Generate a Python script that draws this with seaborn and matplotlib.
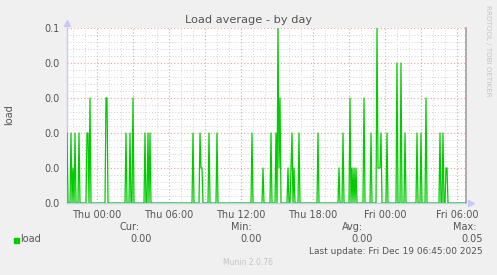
import matplotlib
matplotlib.use("Agg")
import matplotlib.pyplot as plt
import matplotlib.dates as mdates
import numpy as np
import pandas as pd
import seaborn as sns

# ---------------- data ----------------
series_start = "2025-12-17 21:30"
series_end = "2025-12-19 06:45"
sample_step = "5min"

spike_times = [
    "2025-12-17 21:30", "2025-12-17 21:50", "2025-12-17 22:00", "2025-12-17 22:10",
    "2025-12-17 22:30", "2025-12-17 23:10", "2025-12-17 23:15", "2025-12-17 23:25",
    "2025-12-18 00:45", "2025-12-18 00:50", "2025-12-18 02:25", "2025-12-18 02:45",
    "2025-12-18 03:00", "2025-12-18 04:00", "2025-12-18 04:15", "2025-12-18 04:25",
    "2025-12-18 08:00", "2025-12-18 08:35", "2025-12-18 08:40", "2025-12-18 08:45",
    "2025-12-18 09:20", "2025-12-18 10:00", "2025-12-18 12:55", "2025-12-18 13:50",
    "2025-12-18 14:30", "2025-12-18 14:55", "2025-12-18 15:05", "2025-12-18 15:10",
    "2025-12-18 15:15", "2025-12-18 15:55", "2025-12-18 16:10", "2025-12-18 16:15",
    "2025-12-18 16:25", "2025-12-18 16:50", "2025-12-18 18:25", "2025-12-18 20:10",
    "2025-12-18 20:30", "2025-12-18 21:05", "2025-12-18 21:15", "2025-12-18 21:25",
    "2025-12-18 21:35", "2025-12-18 22:15", "2025-12-18 22:50", "2025-12-18 23:20",
    "2025-12-18 23:25", "2025-12-18 23:30", "2025-12-18 23:35", "2025-12-18 23:40",
    "2025-12-19 00:10", "2025-12-19 01:00", "2025-12-19 01:20", "2025-12-19 01:40",
    "2025-12-19 02:40", "2025-12-19 03:00", "2025-12-19 03:25", "2025-12-19 04:35",
    "2025-12-19 04:50", "2025-12-19 05:05", "2025-12-19 05:10",
]
spike_loads = [
    0.02, 0.02, 0.01, 0.02,
    0.02, 0.02, 0.02, 0.03,
    0.03, 0.03, 0.02, 0.02,
    0.03, 0.02, 0.02, 0.02,
    0.02, 0.02, 0.01, 0.01,
    0.02, 0.02, 0.02, 0.01,
    0.02, 0.02, 0.05, 0.01,
    0.03, 0.01, 0.01, 0.02,
    0.01, 0.02, 0.02, 0.01,
    0.02, 0.03, 0.01, 0.01,
    0.01, 0.03, 0.02, 0.05,
    0.01, 0.01, 0.01, 0.02,
    0.02, 0.04, 0.04, 0.02,
    0.02, 0.02, 0.03, 0.02,
    0.02, 0.01, 0.01,
]

y_ticks = [0.0, 0.01, 0.02, 0.03, 0.04, 0.05]
y_tick_labels = ["0.0", "0.0", "0.0", "0.0", "0.0", "0.1"]
x_grid_times = ["2025-12-18 00:00", "2025-12-18 03:00", "2025-12-18 06:00",
                "2025-12-18 09:00", "2025-12-18 12:00", "2025-12-18 15:00",
                "2025-12-18 18:00", "2025-12-18 21:00", "2025-12-19 00:00",
                "2025-12-19 03:00", "2025-12-19 06:00"]
x_grid_labels = ["Thu 00:00", "", "Thu 06:00", "", "Thu 12:00", "",
                 "Thu 18:00", "", "Fri 00:00", "", "Fri 06:00"]

series_name = "load"
stat_names = ["Cur:", "Min:", "Avg:", "Max:"]
stat_values = ["0.00", "0.00", "0.00", "0.05"]
title_text = "Load average - by day"
last_update = "Last update: Fri Dec 19 06:45:00 2025"
footer_text = "Munin 2.0.76"
side_text = "RRDTOOL / TOBI OETIKER"

# ---------------- build table ----------------
times = pd.date_range(series_start, series_end, freq=sample_step)
load = pd.Series(0.0, index=times)
load.loc[pd.to_datetime(spike_times)] = spike_loads
df = pd.DataFrame({"time": times, "load": load.values})

# ---------------- figure ----------------
sns.set_theme(style="white")
plt.rcParams["font.family"] = ["DejaVu Sans"]

W, H = 497, 275
BG = "#F0F0F0"
TXT = "#555555"
fig = plt.figure(figsize=(W / 100, H / 100), dpi=100, facecolor=BG)
L, R, T, B = 67, 466, 28, 203
ax = fig.add_axes([L / W, 1 - B / H, (R - L) / W, (B - T) / H])
ax.set_facecolor("white")

sns.lineplot(data=df, x="time", y="load", ax=ax, color="#00CC00",
             linewidth=0.9, legend=False, zorder=5)

ax.set_xlim(mdates.date2num(pd.Timestamp(series_start)),
            mdates.date2num(pd.Timestamp(series_end)))
ax.set_ylim(0, 0.05)

# y ticks / grid
ax.set_yticks(y_ticks)
ax.set_yticklabels(y_tick_labels)
ax.set_yticks(np.arange(0, 0.0501, 0.002), minor=True)
# x ticks / grid
xt = [mdates.date2num(pd.Timestamp(t)) for t in x_grid_times]
ax.set_xticks(xt)
ax.set_xticklabels(x_grid_labels)
ax.xaxis.set_minor_locator(mdates.HourLocator())

ax.grid(True, which="minor", color="#D2D2D2", linestyle=(0, (1, 2)), linewidth=0.7)
ax.grid(True, which="major", color="#F0A0A0", linestyle=(0, (1, 2)), linewidth=0.8)
ax.set_axisbelow(True)

ax.tick_params(axis="both", which="major", labelsize=7, colors=TXT, length=2,
               width=0.7, pad=3)
ax.tick_params(axis="x", which="major", color="#F08080", length=2)
ax.tick_params(axis="y", which="major", color="#F08080", length=2)
ax.tick_params(axis="both", which="minor", length=0)
for lab in ax.get_xticklabels() + ax.get_yticklabels():
    lab.set_color(TXT)
ax.set_xlabel("")
ax.set_ylabel("")

ax.spines["top"].set_visible(False)
ax.spines["left"].set_color("#C8C8F8")
ax.spines["bottom"].set_color("#C8C8F8")
ax.spines["left"].set_linewidth(1.0)
ax.spines["bottom"].set_linewidth(1.0)
ax.spines["right"].set_color("#A0A0A0")
ax.spines["right"].set_linewidth(1.2)

# axis arrows
ax.plot([0], [1 + 5 / 175], marker="^", color="#C8C8F8", markersize=4.5,
        transform=ax.transAxes, clip_on=False)
ax.plot([1 + 5 / 399], [0], marker=">", color="#C8C8F8", markersize=4.5,
        transform=ax.transAxes, clip_on=False)

def px(x, y):
    return x / W, 1 - y / H

fig.text(*px(248.5, 20), title_text, ha="center", va="center",
         fontsize=8.2, color=TXT)
fig.text(*px(9, 115), series_name, ha="center", va="center", rotation=90,
         fontsize=7, color=TXT)
fig.text(*px(488, 51), side_text, ha="center", va="center", rotation=270,
         fontsize=5.1, color="#C4C4C4")

# legend row
fig.patches.append(plt.Rectangle(px(14, 243), 5 / W, 5 / H,
                                 transform=fig.transFigure, color="#00CC00"))
fig.text(*px(20, 239), series_name, ha="left", va="center", fontsize=7, color=TXT)
name_right = [139.5, 252, 363, 476]
value_right = [152, 262, 372.5, 482.5]
for n, v, nx, vx in zip(stat_names, stat_values, name_right, value_right):
    fig.text(*px(nx, 226.5), n, ha="right", va="center", fontsize=7, color=TXT)
    fig.text(*px(vx, 239), v, ha="right", va="center", fontsize=7, color=TXT)
fig.text(*px(482.5, 251), last_update, ha="right", va="center", fontsize=6.5,
         color=TXT)
fig.text(*px(248, 262.5), footer_text, ha="center", va="center", fontsize=5.5,
         color="#C4C4C4")

fig.savefig("out.png", dpi=100, facecolor=BG)
